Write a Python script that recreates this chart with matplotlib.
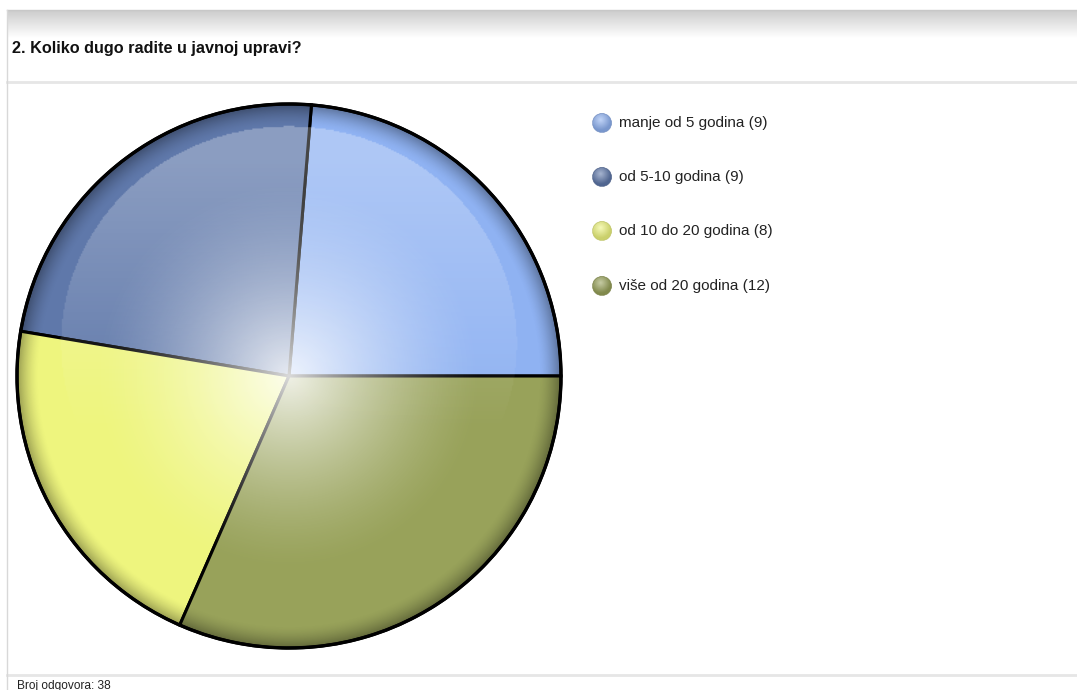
import numpy as np
import matplotlib
matplotlib.use("Agg")
import matplotlib.pyplot as plt
from matplotlib.patches import Circle
from matplotlib.colors import to_rgb

title = "2. Koliko dugo radite u javnoj upravi?"
categories = ["manje od 5 godina", "od 5-10 godina", "od 10 do 20 godina", "više od 20 godina"]
values = [9, 9, 8, 12]
colors = ["#8fb2f2", "#5f78aa", "#eef57e", "#98a25a"]
footer = "Broj odgovora: 38"

W, H = 1077, 690
fig = plt.figure(figsize=(W / 100, H / 100), dpi=100)
ax = fig.add_axes([0, 0, 1, 1])

def py(y):
    return H - y

# pie
cx, cy, R = 289, py(376), 272
wedges, _ = ax.pie(values, colors=colors, startangle=0, counterclock=True,
                   center=(cx, cy), radius=R, frame=True,
                   wedgeprops=dict(edgecolor="black", linewidth=2.2))
for w in wedges:
    w.set_zorder(2)
ax.set_xlim(0, W)
ax.set_ylim(0, H)
ax.set_aspect("equal")
ax.axis("off")

# header gradient band
grad = np.linspace(0.80, 1.0, 64).reshape(-1, 1)
band = np.dstack([grad, grad, grad])
ax.imshow(band, extent=(7, W, py(38), py(10)), aspect="auto", zorder=0)
ax.plot([7, W], [py(10), py(10)], color="#c8c8c8", lw=1, zorder=1)
ax.plot([7, W], [py(82), py(82)], color="#e6e6e6", lw=2, zorder=1)
ax.plot([7, W], [py(675), py(675)], color="#e6e6e6", lw=2, zorder=1)
ax.plot([7, 7], [py(10), 0], color="#d8d8d8", lw=1, zorder=1)

ax.text(12, py(49), title, fontsize=11.7, fontweight="bold", family="Liberation Sans",
        va="center", ha="left", color="#111111")
ax.text(17, py(686), footer, fontsize=8.6, family="Liberation Sans", va="center",
        ha="left", color="#222222")

# glossy overlay
n = 400
xs = np.linspace(-1, 1, n)
X, Y = np.meshgrid(xs, xs[::-1])
r = np.sqrt(X ** 2 + Y ** 2)
ext = (cx - R, cx + R, cy - R, cy + R)

def overlay(rgb, alpha):
    img = np.zeros((n, n, 4))
    img[..., :3] = rgb
    img[..., 3] = alpha
    im = ax.imshow(img, extent=ext, zorder=3, interpolation="bilinear")
    im.set_clip_path(Circle((cx, cy), R, transform=ax.transData))

# white center glow
overlay(1.0, np.clip(1 - r / 0.72, 0, 1) ** 1.4 * 0.85)
# top highlight ellipse
ell = (X / 0.84) ** 2 + ((Y - 0.12) / 0.80) ** 2
hl = np.where(ell < 1, 0.28 * np.clip((Y + 0.2) / 1.0, 0, 1), 0)
overlay(1.0, hl)
# dark rim
overlay(0.0, np.clip((r - 0.92) / 0.08, 0, 1) ** 1.6 * 0.35)

ax.add_patch(Circle((cx, cy), R, fill=False, edgecolor="black", lw=2.4, zorder=4))

# legend
ly = [123, 177, 231, 286]
lx = 602
for cat, val, col, y in zip(categories, values, colors, ly):
    base = np.array(to_rgb(col))
    m = 40
    gx = np.linspace(-1, 1, m)
    GX, GY = np.meshgrid(gx, gx[::-1])
    rr = np.sqrt((GX + 0.2) ** 2 + (GY - 0.3) ** 2)
    img = np.zeros((m, m, 4))
    t = np.clip(1 - rr / 1.1, 0, 1)[..., None]
    shade = base * (0.85 + 0.15 * t) + (1 - base) * 0.45 * t
    img[..., :3] = np.clip(shade, 0, 1)
    img[..., 3] = 1
    r0 = 9.5
    imL = ax.imshow(img, extent=(lx - r0, lx + r0, py(y) - r0, py(y) + r0), zorder=5,
                    interpolation="bilinear")
    imL.set_clip_path(Circle((lx, py(y)), r0, transform=ax.transData))
    ax.add_patch(Circle((lx, py(y)), r0, fill=False, edgecolor=tuple(base * 0.8), lw=0.5, zorder=6))
    ax.text(619, py(y), f"{cat} ({val})", fontsize=11.0, family="Liberation Sans",
            va="center", ha="left", color="#222222")

fig.savefig("out.png", dpi=100)
